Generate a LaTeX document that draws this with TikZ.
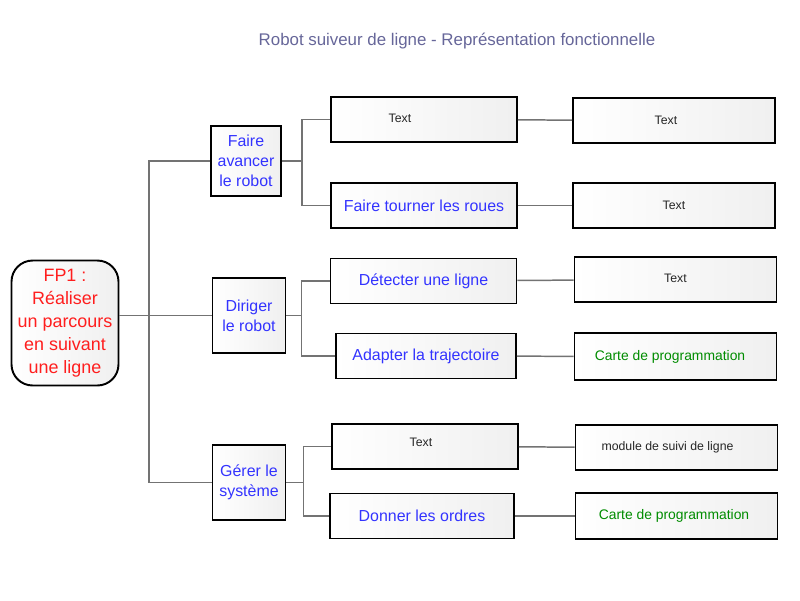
\documentclass[tikz,border=0pt]{standalone}
\usepackage{fontspec}
\setmainfont{Liberation Sans}
\usetikzlibrary{positioning}

\definecolor{fbleu}{RGB}{51,51,255}
\definecolor{frouge}{RGB}{255,30,30}
\definecolor{fvert}{RGB}{0,140,0}
\definecolor{ftitre}{RGB}{102,102,153}

\begin{document}
\begin{tikzpicture}[x=0.02cm, y=-0.02cm]

\tikzset{
  box/.style={rectangle, draw=black, line width=1.1pt, left color=white, right color=black!6, inner sep=1pt, align=center},
  fp/.style={box, rounded corners=12pt, minimum width=2.14cm, minimum height=2.5cm, text=frouge, font=\fontsize{10.2}{13}\selectfont},
  fct/.style={box, minimum width=1.46cm, minimum height=1.5cm, text=fbleu, font=\fontsize{9.07}{11.3}\selectfont},
  sub/.style={box, minimum width=3.72cm, minimum height=0.9cm, text=fbleu, font=\fontsize{9.07}{11.3}\selectfont},
  sol/.style={box, minimum width=4.04cm, minimum height=0.9cm, text=black!85, font=\fontsize{7}{8.5}\selectfont},
  txt/.style={text=black!85, font=\fontsize{7}{8.5}\selectfont},
  carte/.style={text=fvert, font=\fontsize{7.9}{9.5}\selectfont},
  conn/.style={draw=black!55, line width=0.85pt}
}

\useasboundingbox (0,0) rectangle (800,600);

% --- Titel ---
\node[text=ftitre, font=\fontsize{9.6}{11}\selectfont] (titre) at (457,41) {Robot suiveur de ligne - Représentation fonctionnelle};

% --- Fonction principale ---
\node[fp] (fp1) at (65,323) {FP1 :\\Réaliser\\un parcours\\en suivant\\une ligne};

% --- Fonctions techniques (niveau 2) ---
\node[fct, minimum width=1.4cm, minimum height=1.4cm] (f1) at (246,161) {Faire\\avancer\\le robot};
\node[fct] (f2) at (249,315.5) {Diriger\\le robot};
\node[fct] (f3) at (249,482.5) {Gérer le\\système};

% --- Sous-fonctions (niveau 3) ---
\node[sub, label={[txt, xshift=-0.48cm, yshift=0.03cm]center:Text}] (f11) at (424,119.5) {};
\node[sub] (f12) at (424,205.5) {Faire tourner les roues};
\node[sub] (f21) at (423.5,281) {Détecter une ligne};
\node[sub, minimum width=3.6cm] (f22) at (426,356) {Adapter la trajectoire};
\node[sub, label={[txt, xshift=-0.08cm, yshift=0.08cm]center:Text}] (f31) at (425,446.5) {};
\node[sub, minimum width=3.68cm] (f32) at (422,516) {Donner les ordres};

% --- Solutions (niveau 4) ---
\node[sol, label={[txt, xshift=-0.16cm]center:Text}] (s11) at (674,120.5) {};
\node[sol] (s12) at (674,205.5) {Text};
\node[sol, label={[txt, yshift=0.03cm]center:Text}] (s21) at (675.5,279.5) {};
\node[sol, minimum height=0.94cm, label={[carte, xshift=-0.11cm]center:Carte de programmation}] (s22) at (675.5,356.5) {};
\node[sol, label={[txt, xshift=-0.18cm]center:module de suivi de ligne}] (s31) at (676.5,447.5) {};
\node[sol, minimum height=0.92cm, label={[carte, xshift=-0.05cm]center:Carte de programmation}] (s32) at (676.5,516) {};

% --- Kanten ---
\coordinate (j1) at (149,315.5);
\draw[conn] (fp1.east |- j1) -- (j1) -- (f2.west);
\draw[conn] (f1.west) -| (j1);
\draw[conn] (f3.west) -| (j1);

\draw[conn] (f1.east) -- ++(20,0) coordinate (j2);
\draw[conn] (f11.west) -| (j2) |- (f12.west);

\draw[conn] (f2.east) -- ++(15,0) coordinate (j3);
\draw[conn] (f21.west) -| (j3) |- (f22.west);

\draw[conn] (f3.east) -- ++(17,0) coordinate (j4);
\draw[conn] (f31.west) -| (j4) |- (f32.west);

\draw[conn] (f11) -- (s11);
\draw[conn] (f12) -- (s12);
\draw[conn] (f21) -- (s21);
\draw[conn] (f22) -- (s22);
\draw[conn] (f31) -- (s31);
\draw[conn] (f32) -- (s32);

\end{tikzpicture}
\end{document}
